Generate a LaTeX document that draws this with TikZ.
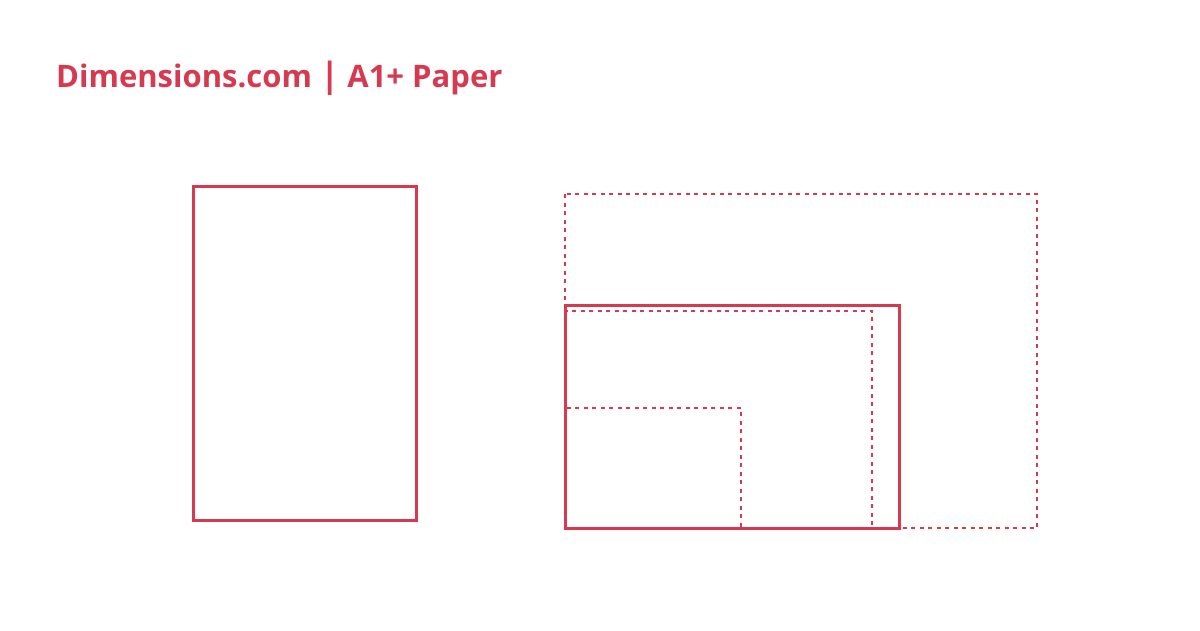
\documentclass[tikz,border=0pt]{standalone}
\usepackage{fontspec}
\setmainfont{Open Sans}
\definecolor{dimred}{RGB}{214,58,80}
\begin{document}
\begin{tikzpicture}[x=1pt,y=-1pt,
  solidline/.style={draw=dimred,line width=3pt},
  dashline/.style={draw=dimred,line width=2.3pt,dash pattern=on 4pt off 4.5pt}]
\useasboundingbox (0,0) rectangle (1200,630);
\node[anchor=base west,inner sep=0pt,text=dimred,font=\fontsize{31}{37}\selectfont\bfseries] (title) at (56,87) {Dimensions.com {\fontsize{35}{37}\selectfont|} A1+ Paper};
\draw[solidline] (193,186) rectangle (416,520);
\draw[dashline] (565,194) rectangle (1037,528);
\draw[dashline] (565,311) rectangle (872,528);
\draw[dashline] (565,408) rectangle (741,528);
\draw[solidline] (565,305) rectangle (899,528);
\end{tikzpicture}
\end{document}
